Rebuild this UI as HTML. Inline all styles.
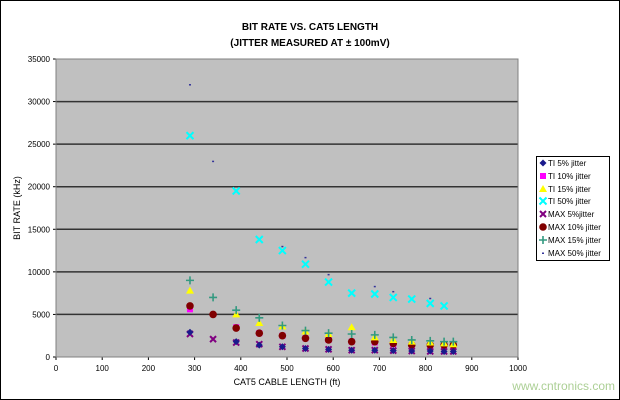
<!DOCTYPE html>
<html><head><meta charset="utf-8"><style>
body{margin:0;background:#fff}
svg{display:block;font-family:"Liberation Sans",Arial,sans-serif}
</style></head><body>
<svg id="s" width="620" height="400" viewBox="0 0 620 400">
<rect x="0" y="0" width="620" height="400" fill="#fff"/>
<rect x="0.5" y="0.5" width="619" height="399" fill="none" stroke="#000"/>
<text x="310" y="30" font-size="10" font-weight="bold" text-anchor="middle">BIT RATE VS. CAT5 LENGTH</text>
<text x="310" y="46" font-size="10" font-weight="bold" text-anchor="middle">(JITTER MEASURED AT ± 100mV)</text>
<rect x="56" y="59" width="462" height="298" fill="#c0c0c0"/>
<g id="grid" stroke="#333" stroke-width="1.5"></g>
<rect x="56" y="59" width="462" height="298" fill="none" stroke="#808080"/>
<g id="yl" font-size="8" text-anchor="end"></g>
<g id="xl" font-size="8" text-anchor="middle"></g>
<text x="20" y="208" font-size="9" text-anchor="middle" transform="rotate(-90 20 208)">BIT RATE (kHz)</text>
<text x="287" y="385" font-size="9" text-anchor="middle">CAT5 CABLE LENGTH (ft)</text>
<g id="pts"></g>
<rect x="536.5" y="156.5" width="73" height="104" fill="#fff" stroke="#000"/>
<g font-size="8">
<text x="548" y="166">TI 5% jitter</text>
<text x="548" y="179">TI 10% jitter</text>
<text x="548" y="192">TI 15% jitter</text>
<text x="548" y="204">TI 50% jitter</text>
<text x="548" y="217">MAX 5%jitter</text>
<text x="548" y="230">MAX 10% jitter</text>
<text x="548" y="243">MAX 15% jitter</text>
<text x="548" y="256">MAX 50% jitter</text>
</g>
<g id="leg"></g>
<text x="615" y="390" font-size="12" fill="#5aa02c" text-anchor="end" opacity="0.5">www.cntronics.com</text>
</svg>
<script>
var ns="http://www.w3.org/2000/svg";
function el(p,t,a){var e=document.createElementNS(ns,t);for(var k in a)e.setAttribute(k,a[k]);p.appendChild(e);return e;}
var g=document.getElementById('grid'),yl=document.getElementById('yl'),xl=document.getElementById('xl');
function X(v){return 56+v*0.462}function Y(v){return 357-v*298/35000}
for(var v=0;v<=35000;v+=5000){var y=Y(v);if(v>0&&v<35000)el(g,'line',{x1:56,x2:518,y1:y,y2:y});
 var t=el(yl,'text',{x:50,y:y+3});t.textContent=v;el(g,'line',{x1:53,x2:56,y1:y,y2:y,stroke:'#000','stroke-width':1});}
for(var v=0;v<=1000;v+=100){var x=X(v);var t=el(xl,'text',{x:x,y:371});t.textContent=v;el(g,'line',{x1:x,x2:x,y1:357,y2:360,stroke:'#000','stroke-width':1});}
var P=document.getElementById('pts');
function mk(p,type,x,y){
 if(type==0)el(p,'polygon',{points:(x)+','+(y-3.5)+' '+(x+3.5)+','+y+' '+x+','+(y+3.5)+' '+(x-3.5)+','+y,fill:'#1a1a8c'});
 else if(type==1)el(p,'rect',{x:x-3,y:y-3,width:6,height:6,fill:'#ff00ff'});
 else if(type==2)el(p,'polygon',{points:x+','+(y-4)+' '+(x+4)+','+(y+3)+' '+(x-4)+','+(y+3),fill:'#ffff00'});
 else if(type==3){el(p,'path',{d:'M'+(x-3.5)+' '+(y-3.5)+'L'+(x+3.5)+' '+(y+3.5)+'M'+(x+3.5)+' '+(y-3.5)+'L'+(x-3.5)+' '+(y+3.5),stroke:'#00ffff','stroke-width':2});}
 else if(type==4){el(p,'path',{d:'M'+(x-3)+' '+(y-3)+'L'+(x+3)+' '+(y+3)+'M'+(x+3)+' '+(y-3)+'L'+(x-3)+' '+(y+3),stroke:'#800080','stroke-width':2});}
 else if(type==5)el(p,'circle',{cx:x,cy:y,r:3.8,fill:'#800000'});
 else if(type==6){el(p,'path',{d:'M'+(x-4)+' '+y+'L'+(x+4)+' '+y+'M'+x+' '+(y-4)+'L'+x+' '+(y+4),stroke:'#339980','stroke-width':1.6});}
 else el(p,'rect',{x:x-1,y:y-0.5,width:2,height:1.5,fill:'#333399'});
}
var D=[
[[290,2900],[390,1800],[440,1400],[490,1200],[540,1000],[590,900],[640,800],[690,800],[730,750],[770,700],[810,700],[840,650],[860,650]],
[[290,5600],[390,3500],[440,2800],[490,2500],[540,2200],[590,2000],[640,1800],[690,1700],[730,1500],[770,1400],[810,1300],[840,1300],[860,1200]],
[[290,7800],[390,5000],[440,4000],[490,3600],[540,3000],[590,2700],[640,3500],[690,2300],[730,2000],[770,1800],[810,1700],[840,1600],[860,1500]],
[[290,26000],[390,19500],[440,13800],[490,12500],[540,10900],[590,8800],[640,7500],[690,7400],[730,7000],[770,6800],[810,6300],[840,6000]],
[[290,2700],[340,2100],[390,1700],[440,1500],[490,1200],[540,1000],[590,900],[640,800],[690,800],[730,750],[770,700],[810,650],[840,650],[860,650]],
[[290,6000],[340,5000],[390,3400],[440,2800],[490,2500],[540,2200],[590,2000],[640,1800],[690,1800],[730,1600],[770,1400],[810,1400],[840,1400],[860,1400]],
[[290,9000],[340,7000],[390,5500],[440,4600],[490,3700],[540,3100],[590,2800],[640,2700],[690,2600],[730,2300],[770,2000],[810,1900],[840,1800],[860,1800]],
[[290,32000],[340,23000],[490,13000],[540,11700],[590,9700],[690,8300],[730,7700],[810,6900]]];
var order=[3,7,1,5,2,6,4,0];
order.forEach(function(s){D[s].forEach(function(d){mk(P,s,X(d[0]),Y(d[1]));});});
var L=document.getElementById('leg');var ly=[163,176,189,201,214,227,240,253];
for(var i=0;i<8;i++)mk(L,i,543,ly[i]);
</script>
</body></html>
